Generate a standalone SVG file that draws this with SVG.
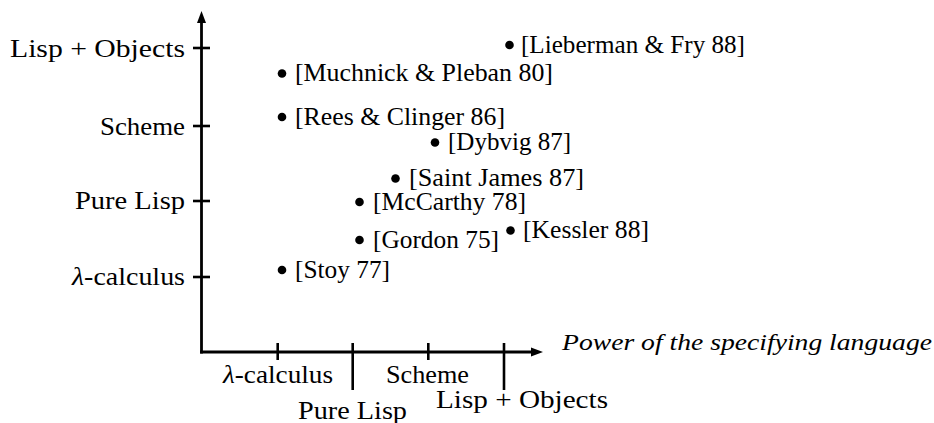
<svg xmlns="http://www.w3.org/2000/svg" width="934" height="423" viewBox="0 0 934 423">
  <style>
    text { font-family: "Liberation Serif", "Times New Roman", serif; font-size: 25px; fill: #000; }
    .it { font-style: italic; font-size: 24px; }
    .gr { font-style: italic; }
    .axis { stroke: #000; stroke-width: 2.8; fill: none; }
    .tick { stroke: #000; stroke-width: 2.6; fill: none; }
    .dot { fill: #000; }
  </style>
  <rect width="934" height="423" fill="#fff"/>

  <!-- axes, ticks and arrowheads -->
  <g id="axes">
    <line class="axis" x1="201.5" y1="353.4" x2="201.5" y2="20"/>
    <polygon points="201.5,11 197,23 206,23" fill="#000"/>
    <line class="axis" x1="200.1" y1="352" x2="533" y2="352"/>
    <polygon points="543,352 531,347.5 531,356.5" fill="#000"/>
    <!-- vertical axis ticks -->
    <line class="tick" x1="193" y1="48" x2="210" y2="48"/>
    <line class="tick" x1="193" y1="126" x2="210" y2="126"/>
    <line class="tick" x1="193" y1="201" x2="210" y2="201"/>
    <line class="tick" x1="193" y1="277" x2="210" y2="277"/>
    <!-- horizontal axis ticks -->
    <line class="tick" x1="277.7" y1="343" x2="277.7" y2="360"/>
    <line class="tick" x1="352.7" y1="343" x2="352.7" y2="390"/>
    <line class="tick" x1="428.3" y1="343" x2="428.3" y2="360"/>
    <line class="tick" x1="504" y1="343" x2="504" y2="390"/>
  </g>

  <!-- vertical axis labels -->
  <g id="y-labels">
    <text x="10" y="57" textLength="175" lengthAdjust="spacingAndGlyphs">Lisp + Objects</text>
    <text x="100" y="135" textLength="85" lengthAdjust="spacingAndGlyphs">Scheme</text>
    <text x="75" y="208.5" textLength="110" lengthAdjust="spacingAndGlyphs">Pure Lisp</text>
    <text x="72" y="285" textLength="113" lengthAdjust="spacingAndGlyphs"><tspan class="gr">λ</tspan>-calculus</text>
  </g>

  <!-- horizontal axis labels -->
  <g id="x-labels">
    <text x="223" y="383" textLength="110" lengthAdjust="spacingAndGlyphs"><tspan class="gr">λ</tspan>-calculus</text>
    <text x="298" y="419" textLength="109" lengthAdjust="spacingAndGlyphs">Pure Lisp</text>
    <text x="386" y="383" textLength="83" lengthAdjust="spacingAndGlyphs">Scheme</text>
    <text x="436" y="408" textLength="172" lengthAdjust="spacingAndGlyphs">Lisp + Objects</text>
    <text class="it" x="562" y="350" textLength="370" lengthAdjust="spacingAndGlyphs">Power of the specifying language</text>
  </g>

  <!-- data points -->
  <g id="lieberman-fry-88">
    <circle class="dot" cx="509.5" cy="45" r="4.3"/>
    <text x="521" y="53" textLength="224" lengthAdjust="spacingAndGlyphs">[Lieberman &amp; Fry 88]</text>
  </g>
  <g id="muchnick-pleban-80">
    <circle class="dot" cx="282" cy="73.5" r="4.3"/>
    <text x="295" y="81" textLength="258" lengthAdjust="spacingAndGlyphs">[Muchnick &amp; Pleban 80]</text>
  </g>
  <g id="rees-clinger-86">
    <circle class="dot" cx="282" cy="117" r="4.3"/>
    <text x="295" y="124.5" textLength="210" lengthAdjust="spacingAndGlyphs">[Rees &amp; Clinger 86]</text>
  </g>
  <g id="dybvig-87">
    <circle class="dot" cx="435" cy="142.5" r="4.3"/>
    <text x="448" y="150" textLength="123" lengthAdjust="spacingAndGlyphs">[Dybvig 87]</text>
  </g>
  <g id="saint-james-87">
    <circle class="dot" cx="395.5" cy="178.5" r="4.3"/>
    <text x="409" y="186" textLength="175" lengthAdjust="spacingAndGlyphs">[Saint James 87]</text>
  </g>
  <g id="mccarthy-78">
    <circle class="dot" cx="359.5" cy="202" r="4.3"/>
    <text x="373" y="209.5" textLength="153" lengthAdjust="spacingAndGlyphs">[McCarthy 78]</text>
  </g>
  <g id="gordon-75">
    <circle class="dot" cx="359.5" cy="240" r="4.3"/>
    <text x="373" y="247.5" textLength="126" lengthAdjust="spacingAndGlyphs">[Gordon 75]</text>
  </g>
  <g id="kessler-88">
    <circle class="dot" cx="510.5" cy="230.5" r="4.3"/>
    <text x="523" y="238" textLength="126" lengthAdjust="spacingAndGlyphs">[Kessler 88]</text>
  </g>
  <g id="stoy-77">
    <circle class="dot" cx="282" cy="270" r="4.3"/>
    <text x="295" y="277.5" textLength="95" lengthAdjust="spacingAndGlyphs">[Stoy 77]</text>
  </g>
</svg>
